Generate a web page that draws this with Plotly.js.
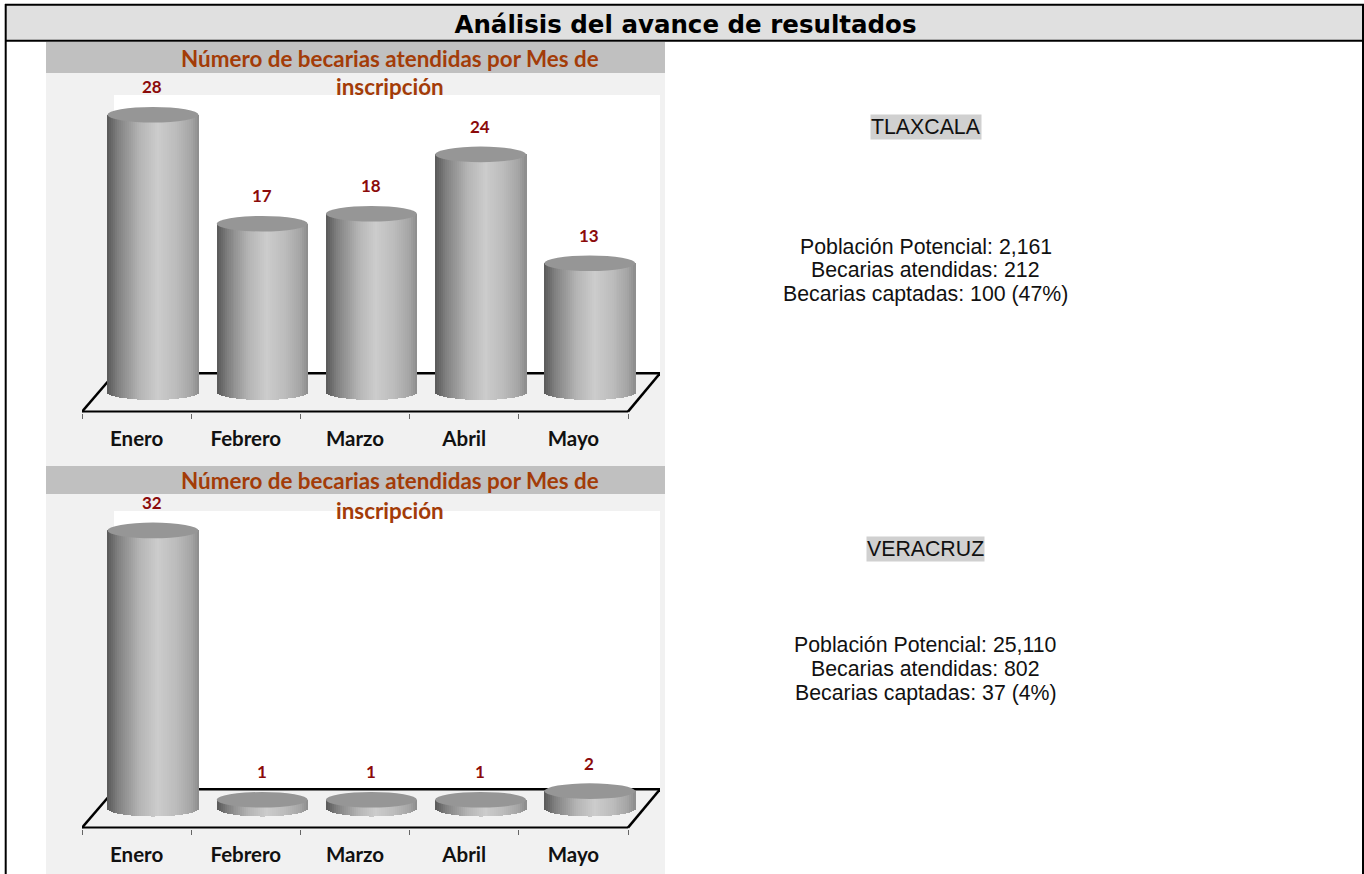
<!DOCTYPE html>
<html><head><meta charset="utf-8">
<script src="https://cdn.plot.ly/plotly-3.0.1.min.js"></script>
<style>html,body{margin:0;padding:0;background:#fff;overflow:hidden}#chart{width:1364px;height:874px}</style>
</head><body><div id="chart"></div>
<script>
const mainTitle = 'Análisis del avance de resultados';
const chartTitleLines = ['Número de becarias atendidas por Mes de', 'inscripción'];
const months = ['Enero', 'Febrero', 'Marzo', 'Abril', 'Mayo'];
const tlaxcalaValues = [28, 17, 18, 24, 13];
const veracruzValues = [32, 1, 1, 1, 2];
const tlaxcalaName = 'TLAXCALA';
const veracruzName = 'VERACRUZ';
const tlaxcalaLines = ['Población Potencial: 2,161', 'Becarias atendidas: 212', 'Becarias captadas: 100 (47%)'];
const veracruzLines = ['Población Potencial: 25,110', 'Becarias atendidas: 802', 'Becarias captadas: 37 (4%)'];

const W = 1364, H = 874;
const px = x => x / W, py = y => 1 - y / H;
const DARK = '#000';
const unitX = 109.2;
const SLICES = 46;

// shade across the cylinder, left to right
const stops = [[0, 0x58], [0.12, 0x80], [0.35, 0xb4], [0.55, 0xcc], [0.75, 0xbc], [0.92, 0xa4], [1, 0x8c]];
function shade(t) {
  for (let i = 1; i < stops.length; i++) {
    if (t <= stops[i][0]) {
      const a = stops[i - 1], b = stops[i];
      const v = Math.round(a[1] + (b[1] - a[1]) * (t - a[0]) / (b[0] - a[0]));
      return `rgb(${v},${v},${v})`;
    }
  }
  return '#8c8c8c';
}

const panels = [
  { ax: '', values: tlaxcalaValues, zeroPx: 392, scale: 9.9, top: 95, bottom: 413, frontPx: 411.6, backPx: 373.3, bandTop: 42, bandBottom: 73, titleY: [59, 87], name: tlaxcalaName, nameY: 126.5, lines: tlaxcalaLines, linesY: [246.5, 270, 293.5] },
  { ax: '2', values: veracruzValues, zeroPx: 808.5, scale: 8.69, top: 511, bottom: 829, frontPx: 827.6, backPx: 789.3, bandTop: 466, bandBottom: 494, titleY: [481, 510], name: veracruzName, nameY: 549, lines: veracruzLines, linesY: [644.5, 668.5, 692.5] }
];

const traces = [], shapes = [], annotations = [];
const layout = {
  width: W, height: H, margin: { l: 0, r: 0, t: 0, b: 0 },
  paper_bgcolor: '#fff', plot_bgcolor: 'rgba(0,0,0,0)', showlegend: false,
  barmode: 'overlay', bargap: 0,
  title: { text: mainTitle, x: 685.5 / W, xanchor: 'center', y: py(24.5), yanchor: 'middle', font: { family: 'DejaVu Sans', size: 24.5, color: '#000', weight: 700 } }
};

// page frame and header
shapes.push({ type: 'rect', xref: 'paper', yref: 'paper', x0: px(5.5), x1: px(1363), y0: py(4.5), y1: py(41), fillcolor: '#e0e0e0', line: { width: 0 }, layer: 'below' });
[[5.7, 4, 5.7, 874], [1363, 4, 1363, 874], [5, 4.8, 1364, 4.8], [5, 40.7, 1364, 40.7]].forEach(l =>
  shapes.push({ type: 'line', xref: 'paper', yref: 'paper', x0: px(l[0]), y0: py(l[1]), x1: px(l[2]), y1: py(l[3]), line: { color: DARK, width: 2 }, layer: 'below' }));

// left panel background
shapes.push({ type: 'rect', xref: 'paper', yref: 'paper', x0: px(46), x1: px(665), y0: py(42), y1: py(874), fillcolor: '#f1f1f1', line: { width: 0 }, layer: 'below' });

panels.forEach(p => {
  const xa = 'x' + p.ax, ya = 'y' + p.ax;
  const xName = 'xaxis' + p.ax, yName = 'yaxis' + p.ax;
  const toY = pix => (p.zeroPx - pix) / p.scale;
  const leftPx = 82, rightPx = 660;
  const xLo = -0.5, xHi = xLo + (rightPx - leftPx) / unitX;
  const skew = 33 / unitX;
  const frontY = toY(p.frontPx), backY = toY(p.backPx);
  const shift = 0.15;

  layout[xName] = {
    domain: [px(leftPx), px(rightPx)], range: [xLo, xHi], anchor: ya, fixedrange: true,
    tickmode: 'array', tickvals: months.map((m, i) => i), ticktext: months, ticks: '', ticklen: 0,
    ticklabelstandoff: 11,
    showgrid: false, zeroline: false, showline: false,
    tickfont: { family: 'Lato', size: 20.5, color: '#111', weight: 700 },
    minor: { tick0: -0.5, dtick: 1, ticks: 'outside', ticklen: 5, tickcolor: '#666', tickwidth: 1, showgrid: false }
  };
  layout[yName] = {
    domain: [py(p.bottom), py(p.top)], range: [toY(p.bottom), toY(p.top)], anchor: xa, fixedrange: true,
    visible: false, showgrid: false, zeroline: false
  };

  // title band and white wall
  shapes.push({ type: 'rect', xref: 'paper', yref: 'paper', x0: px(46), x1: px(665), y0: py(p.bandTop), y1: py(p.bandBottom), fillcolor: '#c0c0c0', line: { width: 0 }, layer: 'below' });
  shapes.push({ type: 'rect', xref: 'paper', yref: 'paper', x0: px(114), x1: px(660), y0: py(p.top), y1: py(p.backPx), fillcolor: '#fff', line: { width: 0 }, layer: 'below' });

  // floor outline
  const seg = (x0, y0, x1, y1, w) => shapes.push({ type: 'line', xref: xa, yref: ya, x0, y0, x1, y1, line: { color: DARK, width: w }, layer: 'below' });
  seg(xLo + skew, backY, xHi, backY, 2.5);
  seg(xLo, frontY, xLo + skew, backY, 2.5);
  seg(xLo + 5, frontY, xHi, backY, 2.5);
  seg(xLo, frontY, xLo + 5, frontY, 2);

  // cylinder bodies
  const bodyW = 91 / unitX;
  const rim = 8 / p.scale;
  const sliceW = bodyW / SLICES;
  for (let s = 0; s < SLICES; s++) {
    const t = (s + 0.5) / SLICES, u = 2 * t - 1;
    const drop = rim * Math.sqrt(1 - u * u);
    traces.push({
      type: 'bar', xaxis: xa, yaxis: ya, x: months.map((m, i) => i),
      y: p.values.map(v => v + drop), base: p.values.map(() => -drop),
      width: sliceW * 1.25, offset: shift - bodyW / 2 + s * sliceW,
      marker: { color: shade(t), line: { width: 0 } }, hoverinfo: 'skip'
    });
  }

  // cylinder tops and value labels
  p.values.forEach((v, i) => {
    const cx = i + shift;
    shapes.push({ type: 'circle', xref: xa, yref: ya, x0: cx - bodyW / 2, x1: cx + bodyW / 2, y0: v - 7.8 / p.scale, y1: v + 7.8 / p.scale, fillcolor: '#969696', line: { width: 0 }, layer: 'above' });
    annotations.push({ xref: xa, yref: ya, x: cx - 0.005, y: v, yshift: 28, text: String(v), showarrow: false, xanchor: 'center', yanchor: 'middle', font: { family: 'Lato', size: 17, color: '#8b0a0a', weight: 700 } });
  });

  // chart title
  chartTitleLines.forEach((line, k) => annotations.push({ xref: 'paper', yref: 'paper', x: px(390), y: py(p.titleY[k]), text: line, showarrow: false, xanchor: 'center', yanchor: 'middle', font: { family: 'Lato', size: 22.4, color: '#a33c08', weight: 700 } }));

  // state text
  annotations.push({ xref: 'paper', yref: 'paper', x: px(926), y: py(p.nameY), text: p.name, showarrow: false, xanchor: 'center', yanchor: 'middle', bgcolor: '#d0d0d0', borderpad: 0, font: { family: 'Liberation Sans', size: 21.3, color: '#111' } });
  p.lines.forEach((line, k) => annotations.push({ xref: 'paper', yref: 'paper', x: px(926), y: py(p.linesY[k]), text: line, showarrow: false, xanchor: 'center', yanchor: 'middle', font: { family: 'Liberation Sans', size: 21.3, color: '#111' } }));
});

layout.shapes = shapes;
layout.annotations = annotations;
Plotly.newPlot('chart', traces, layout, { displayModeBar: false, staticPlot: true });
</script></body></html>
